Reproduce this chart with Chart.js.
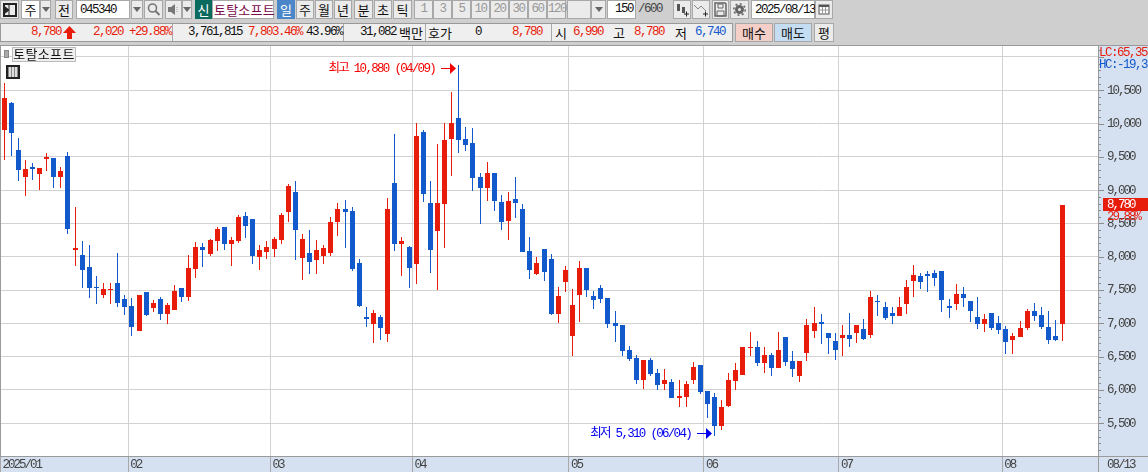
<!DOCTYPE html>
<html lang="ko">
<head>
<meta charset="utf-8">
<title>토탈소프트 045340</title>
<script src="https://cdn.jsdelivr.net/npm/chart.js@4/dist/chart.umd.min.js"></script>
<style>
  html,body{margin:0;padding:0;background:#cfcfcf;overflow:hidden;}
  #page{position:relative;width:1148px;height:472px;overflow:hidden;font:12.5px "Liberation Mono","Noto Sans CJK KR",monospace;letter-spacing:-1.5px;color:#111;}
  #page canvas{position:absolute;left:0;top:45px;background:#d5e1f0;}
  .b{position:absolute;box-sizing:border-box;height:19px;top:0;border:1px solid #a8a8a8;background:#ebebeb;text-align:center;line-height:17px;white-space:nowrap;}
  .k{font-family:"Noto Sans CJK KR",sans-serif;font-size:13px;letter-spacing:0;}
  .w{background:#fff;text-align:left;padding-left:3px;}
  .g{color:#999;}
  .t{position:absolute;top:25px;line-height:15px;white-space:nowrap;}
  .h{font-family:"Noto Sans CJK KR",sans-serif;font-size:13px;letter-spacing:0;}
  .r{color:#e81c0b;}
  .u{color:#1259cc;}
  .s{position:absolute;top:24px;width:1px;height:17px;background:#aaa;}
  .tri{position:absolute;left:50%;top:6px;margin-left:-4px;width:0;height:0;border:4px solid transparent;border-top:5px solid #666;}
  svg{position:absolute;left:0;top:0;}
</style>
</head>
<body>
<div id="page">
  <div id="tools"></div>
  <canvas id="graph" width="1148" height="427"></canvas>
  <div class="b k" style="left:12px;top:47px;width:64px;height:15px;line-height:12px;font-size:13px;letter-spacing:.3px;background:#efefef;border-color:#bbb;">토탈소프트</div>
  <div style="position:absolute;left:4px;top:50px;width:3px;height:6px;background:#aaa;border:1px solid #888;"></div>
  <div style="position:absolute;left:6px;top:65px;width:10px;height:10px;border:2px solid #222;background:repeating-linear-gradient(90deg,#888 0 1px,#ddd 1px 3px);"></div>
</div>
<script>
// candles, one per trading day
const opens = [
  9900,10305,9600,9195,9345,9240,9465,9480,9195,9510,
  8100,8025,7845,7545,7425,7500,7605,7365,7260,6885,
  7470,7230,7365,7140,7200,7530,7395,7815,8145,8040,
  8235,8445,8190,8235,8610,8565,7995,8070,8115,8250,
  8670,8970,7980,8055,7950,8010,8055,8520,8715,8685,
  7905,7095,6990,7095,6840,9105,8190,8145,7890,9870,
  8805,8385,8790,9765,10080,9765,9705,9195,9030,9255,
  8820,8535,8865,8715,8085,7740,8115,7965,7140,7620,
  6810,7425,7830,7410,7530,7380,7005,6975,6600,6480,
  6150,6450,6255,6090,6120,5880,5895,6150,6375,5985,
  5895,5460,5760,6135,6225,6630,6645,6405,6525,6330,
  6795,6435,6210,6555,6885,7020,6855,6735,6780,6825,
  6855,6915,6825,7335,7245,7155,7110,7290,7635,7710,
  7740,7755,7785,7260,7290,7440,7335,7095,6990,7155,
  7005,6915,6750,6795,6930,7185,7125,6945,6810,6990
];
const closes = [
  10380,9855,9300,9315,9315,9330,9495,9195,9285,8415,
  8130,7800,7530,7530,7515,7515,7305,7245,6945,7425,
  7125,7305,7140,7275,7485,7395,7830,8145,8100,8250,
  8415,8190,8250,8595,8460,8010,8100,8145,8265,8625,
  9060,8400,8265,7920,8100,8130,8520,8715,8670,7815,
  7260,7065,7155,6930,8715,8190,8235,7830,9810,8940,
  8100,8805,9750,10005,9750,9675,9180,9030,9255,8835,
  8520,8835,8805,8070,7800,7905,7770,7140,7410,7800,
  7275,7830,7500,7350,7365,6990,6960,6585,6465,6150,
  6450,6240,6075,6150,5880,5910,6090,6345,5970,5790,
  5460,5745,6150,6300,6645,6645,6405,6525,6330,6600,
  6420,6315,6435,6975,7005,6990,6780,6600,6825,6765,
  6975,6765,7395,7320,7080,7110,7245,7545,7725,7620,
  7710,7680,7350,7230,7440,7380,7185,6990,7065,6930,
  6900,6720,6810,6930,7185,7110,6945,6750,6750,8780
];
const highs = [
  10605,10320,9780,9450,9405,9330,9555,9480,9345,9570,
  8745,8235,8175,7710,7605,7605,8055,7425,7380,7425,
  7470,7350,7395,7305,7575,7530,8025,8220,8205,8265,
  8445,8445,8295,8625,8670,8565,8175,8235,8295,8655,
  9090,9135,8340,8400,8250,8175,8595,8805,8850,8745,
  7965,7245,7200,7125,8880,9840,8295,8160,10005,9900,
  9135,9690,10005,10470,10880,9945,9930,9255,9420,9255,
  8925,8970,9195,8790,8295,7995,8115,8040,7545,7860,
  7515,7935,7830,7485,7575,7380,7185,6975,6660,6525,
  6450,6480,6315,6315,6165,6150,6135,6420,6375,5985,
  5955,5850,6255,6405,6645,6870,6735,6645,6555,6870,
  6795,6585,6435,7065,7245,7140,6855,6855,6975,7155,
  6975,7065,7485,7425,7320,7245,7395,7650,7875,7755,
  7785,7800,7785,7365,7590,7545,7335,7395,7140,7155,
  7110,6960,6855,7035,7215,7305,7245,7185,7050,8780
];
const lows = [
  9450,9510,9135,8910,9150,9000,9285,9030,9030,8340,
  7860,7530,7380,7290,7380,7290,7245,7125,6810,6885,
  7110,7170,7050,6990,7200,7320,7335,7680,7845,8010,
  8085,8100,7860,8205,8280,7890,7800,7965,7995,8190,
  8520,7950,7650,7740,7740,7890,8010,8310,8130,7785,
  7245,6945,6705,6750,6720,8085,7710,7530,7590,8820,
  7755,7500,8130,9210,9555,9585,8985,8490,8835,8685,
  8400,8250,8580,8070,7665,7725,7635,7125,7005,7470,
  6510,7020,7395,7215,7305,6930,6720,6510,6435,6090,
  6015,6210,6000,6000,5880,5745,5745,6090,5940,5580,
  5310,5400,5745,6000,6225,6510,6360,6255,6210,6330,
  6360,6195,6120,6435,6780,6690,6540,6450,6510,6645,
  6705,6750,6780,7110,7050,6990,7110,7140,7395,7515,
  7470,7560,7170,7080,7200,7245,7020,6915,6870,6900,
  6840,6540,6540,6795,6900,7035,6915,6690,6735,6740
];
const monthStarts = [0,18,38,58,80,99,118,141];
const monthLabels = ['2025/01','02','03','04','05','06','07','08'];
const priceTicks = [5500,6000,6500,7000,7500,8000,8500,9000,9500,10000,10500,11000];
const priceLabels = ['5,500','6,000','6,500','7,000','7,500','8,000','8,500','9,000','9,500','10,000','10,500',''];
const highNote = '최고 10,880 (04/09)';
const lowNote = '최저 5,310 (06/04)';
const lastPrice = '8,780';
const lastChange = '29.88%';
const lastDate = '08/13';
const lcText = 'LC:65,35';
const hcText = 'HC:-19,3';

const RED = '#e81c0b';
const BLUE = '#1259cc';
const GRID = '#d2d2d2';
const FRAME = '#9a9a9a';
const FONT_FAMILY = '"Liberation Mono","Noto Sans CJK KR",monospace';
const AXIS_FONT = '12.5px ' + FONT_FAMILY;

// toolbar ----------------------------------------------------------------
const tools = document.getElementById('tools');
function box(x,w,text,cls,extra){
  let d = document.createElement('div');
  d.className = 'b ' + (cls||'');
  d.style.left = x+'px';
  d.style.width = w+'px';
  if(extra) d.style.cssText += extra;
  d.innerHTML = text;
  tools.appendChild(d);
  return d;
}
function label(x,text,cls){
  let d = document.createElement('div');
  d.className = 't ' + (cls||'');
  d.style.left = x+'px';
  d.textContent = text;
  tools.appendChild(d);
}
const tri = '<div class="tri"></div>';
box(0,19,'<svg width="17" height="17"><rect x="3" y="3" width="12" height="12" fill="none" stroke="#222" stroke-width="2"/><path d="M3 5l5 4-5 4z M8 3v12" fill="#222" stroke="#222"/></svg>');
box(21,19,'주','k w','background:#fff;text-align:center;padding:0;');
box(40,11,tri);
box(55,18,'전','k');
box(76,54,'045340','w','line-height:18px;');
box(131,12,tri);
box(144,19,'<svg width="17" height="17"><circle cx="7.5" cy="7" r="4" fill="none" stroke="#777" stroke-width="1.6"/><path d="M10.5 10l4 4" stroke="#777" stroke-width="2"/></svg>');
box(165,17,'<svg width="15" height="17"><path d="M2 6h3l4-3v11l-4-3H2z" fill="#777"/><path d="M11 6v5" stroke="#999" stroke-dasharray="1 1"/></svg>');
box(182,10,tri);
box(195,17,'신','k','background:#0a6a5e;color:#fff;border-color:#0a6a5e;');
box(212,62,'토탈소프트','k','background:#fff;color:#7b0d4b;padding-left:1px;letter-spacing:.2px;');
box(277,18,'일','k','background:#4a86c8;color:#fff;border-color:#4a86c8;');
box(296,18,'주','k');
box(315,18,'월','k');
box(334,18,'년','k');
box(354,19,'분','k');
box(374,18,'초','k');
box(393,19,'틱','k');
let periodX = 414;
['1','3','5','10','20','30','60','120'].forEach(p=>{
  box(periodX,19,p,'g');
  periodX += 19;
});
box(567,24,'');
box(591,15,tri);
box(607,29,'150','w','text-align:right;padding:0 2px 0 0;');
let slash = document.createElement('div');
slash.style.cssText = 'position:absolute;left:638px;top:2px;color:#444;';
slash.textContent = '/600';
tools.appendChild(slash);
box(673,18,'<svg width="16" height="17"><path d="M3 3h3v7H3zM8 6h3v6H8z" fill="#555"/><path d="M10 13h5M12.5 10.5v5" stroke="#222"/></svg>');
box(692,18,'<svg width="16" height="17"><path d="M1 4l4 4 3-3 5 5" fill="none" stroke="#888"/><path d="M10 13h5M12.5 10.5v5" stroke="#222"/></svg>');
box(712,17,'<svg width="15" height="17"><path d="M2 2h10l1 1v12H2z" fill="none" stroke="#666" stroke-width="1.5"/><path d="M5 3h5v4H5zM4 10h7v5H4z" fill="none" stroke="#666"/></svg>');
box(730,19,'<svg width="17" height="17"><circle cx="8.5" cy="8.5" r="3" fill="none" stroke="#666" stroke-width="3"/><circle cx="8.5" cy="8.5" r="5.7" fill="none" stroke="#666" stroke-width="1.6" stroke-dasharray="2 2.4"/></svg>');
box(751,64,'2025/08/13','w','line-height:18px;padding-left:3px;');
box(815,18,'<svg width="16" height="17"><rect x="3" y="4" width="10" height="9" fill="#fff" stroke="#555"/><path d="M3 5h10" stroke="#555" stroke-width="2"/><path d="M6.5 6v7M9.5 6v7M3 9h10" stroke="#999"/></svg>');

// quote row
let strip = document.createElement('div');
strip.style.cssText = 'position:absolute;left:0;top:23px;width:733px;height:19px;box-sizing:border-box;border:1px solid #999;background:#efefef;';
tools.appendChild(strip);
[172,343,425,551].forEach(x=>{
  let d = document.createElement('div');
  d.className = 's';
  d.style.left = x+'px';
  tools.appendChild(d);
});
label(31,'8,780','r');
let upArrow = document.createElement('div');
upArrow.innerHTML = '<svg style="left:63px;top:26px;" width="13" height="13"><path d="M6.5 0L13 7H9v6H4V7H0z" fill="#e81c0b"/></svg>';
tools.appendChild(upArrow);
label(93,'2,020','r');
label(129,'+29.88%','r');
label(188,'3,761,815');
label(248,'7,803.46%','r');
label(306,'43.96%');
label(360,'31,082');
label(399,'백만','h');
label(428,'호가','h');
label(475,'0');
label(512,'8,780','r');
label(555,'시','h');
label(573,'6,990','r');
label(613,'고','h');
label(634,'8,780','r');
label(675,'저','h');
label(695,'6,740','u');
box(735,38,'매수','k','top:23px;height:19px;background:#f3cfc8;');
box(774,38,'매도','k','top:23px;height:19px;background:#c5ddf2;');
box(814,20,'평','k','top:23px;height:19px;');

// chart ------------------------------------------------------------------
const upOrDown = closes.map((c,i)=> c >= opens[i] ? RED : BLUE);
const wickData = highs.map((h,i)=>({x:i, y:[lows[i],h]}));
const bodyData = opens.map((o,i)=>({x:i, y:[o,closes[i]]}));

// the HTS draws on whole pixels, bars from chart.js would be blurry otherwise
const snapBars = {
  id:'snapBars',
  beforeDatasetsDraw(chart){
    chart.data.datasets.forEach((ds,n)=>{
      chart.getDatasetMeta(n).data.forEach(el=>{
        el.x = Math.floor(el.x) + 0.5;
        el.y = Math.round(el.y);
        el.base = Math.round(el.base);
        if(el.y === el.base) el.base = el.y + 1;
      });
    });
  }
};

function note(ctx,text,right,y,color,tipX){
  ctx.fillStyle = color;
  ctx.textAlign = 'right';
  ctx.textBaseline = 'middle';
  ctx.font = AXIS_FONT;
  ctx.fillText(text,right,y);
  ctx.fillRect(tipX-15,y-0.5,10,1);
  ctx.beginPath();
  ctx.moveTo(tipX-6,y-5.5);
  ctx.lineTo(tipX,y);
  ctx.lineTo(tipX-6,y+5.5);
  ctx.closePath();
  ctx.fill();
}

const chartFrame = {
  id:'chartFrame',
  beforeDraw(chart){
    const {ctx,chartArea:a} = chart;
    ctx.letterSpacing = '-2px';
    ctx.save();
    ctx.fillStyle = '#fff';
    ctx.fillRect(a.left,a.top,a.right-a.left,a.bottom-a.top);
    ctx.restore();
  },
  afterDraw(chart){
    const {ctx,chartArea:a,scales:{x,y}} = chart;
    ctx.save();
    // minor and major marks on the price axis
    ctx.fillStyle = '#8c8c8c';
    for(let v=5100;v<=11100;v+=100){
      let py = Math.round(y.getPixelForValue(v));
      ctx.fillRect(a.right,py,v%500===0?6:3,1);
    }
    // month marks through the date strip
    ctx.fillStyle = '#a8a8a8';
    monthStarts.forEach(m=>{
      ctx.fillRect(Math.floor(x.getPixelForValue(m-0.5)),a.bottom,1,16);
    });
    // frame
    ctx.fillStyle = FRAME;
    ctx.fillRect(0,a.top-1,chart.width,1);
    ctx.fillRect(0,a.bottom,chart.width,1);
    ctx.fillRect(a.left,a.top,1,a.bottom-a.top);
    ctx.fillRect(a.right,a.top,1,chart.height-a.top);

    const hi = highs.indexOf(Math.max(...highs));
    const lo = lows.indexOf(Math.min(...lows));
    const hx = Math.floor(x.getPixelForValue(hi));
    const lx = Math.floor(x.getPixelForValue(lo));
    ctx.letterSpacing = '-1.7px';
    note(ctx,highNote,hx-23,Math.round(y.getPixelForValue(highs[hi]))+3.5,'#f40000',hx-2);
    note(ctx,lowNote,lx-23,Math.round(y.getPixelForValue(lows[lo]))-2.5,'#0000ee',lx-2);

    // right strip overlays
    const last = y.getPixelForValue(closes[closes.length-1]);
    ctx.letterSpacing = '-2px';
    ctx.textAlign = 'left';
    ctx.textBaseline = 'middle';
    ctx.font = AXIS_FONT;
    ctx.fillStyle = RED;
    ctx.fillRect(a.right+5,Math.round(last)-7,50,13);
    ctx.fillStyle = '#fff';
    ctx.fillText(lastPrice,a.right+9,last);
    ctx.fillStyle = RED;
    ctx.fillText(lastChange,a.right+9,last+12);
    ctx.fillStyle = '#444';
    ctx.fillText(lastDate,a.right+9,chart.height-7);
    ctx.letterSpacing = '-1.5px';
    ctx.fillStyle = RED;
    ctx.fillText(lcText,a.right+1,8);
    ctx.fillStyle = BLUE;
    ctx.fillText(hcText,a.right+1,20);
    ctx.restore();
    ctx.letterSpacing = '-2px';
  }
};

var chart = new Chart(document.getElementById('graph'),{
  type:'bar',
  data:{
    datasets:[
      {label:'몸통',data:bodyData,backgroundColor:upOrDown,barThickness:5},
      {label:'꼬리',data:wickData,backgroundColor:upOrDown,barThickness:1}
    ]
  },
  options:{
    responsive:false,
    animation:false,
    events:[],
    layout:{autoPadding:false,padding:{top:1}},
    datasets:{bar:{grouped:false,borderWidth:0,inflateAmount:0}},
    plugins:{legend:{display:false},tooltip:{enabled:false}},
    scales:{
      x:{
        type:'linear',
        offset:false,
        min:-0.567,
        max:153.97,
        afterFit(s){ s.height = 16; s.paddingLeft = 0; s.paddingRight = 0; },
        afterBuildTicks(s){ s.ticks = monthStarts.map(m=>({value:m-0.5})); },
        grid:{color:GRID,drawTicks:false,offset:false},
        border:{display:false},
        ticks:{
          autoSkip:false,maxRotation:0,align:'start',labelOffset:2,padding:1,
          color:'#444',font:{family:FONT_FAMILY,size:12.5},
          callback:(v,i)=>monthLabels[i]
        }
      },
      y:{
        position:'right',
        min:5009,
        max:11165,
        afterFit(s){ s.width = 50; s.paddingTop = 0; s.paddingBottom = 0; },
        afterBuildTicks(s){ s.ticks = priceTicks.map(v=>({value:v})); },
        grid:{color:GRID,drawTicks:false},
        border:{display:false},
        ticks:{
          autoSkip:false,padding:9,
          color:'#444',font:{family:FONT_FAMILY,size:12.5},
          callback:(v,i)=>priceLabels[i]
        }
      }
    }
  },
  plugins:[chartFrame,snapBars]
});
</script>
</body>
</html>
